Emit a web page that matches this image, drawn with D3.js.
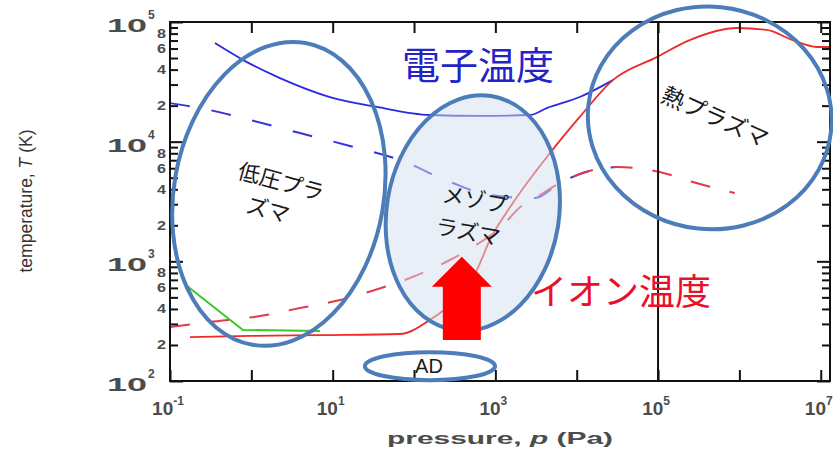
<!DOCTYPE html>
<html>
<head>
<meta charset="utf-8">
<script src="https://cdn.jsdelivr.net/npm/d3@7"></script>
<style>
  body { margin: 0; background: #fff; }
  svg { display: block; }
</style>
</head>
<body>
<svg id="chart" width="833" height="450"></svg>
<script>
'use strict';
// Series: [pressure Pa, temperature K]
const teSolid = [[0.357, 66700], [0.883, 46200], [2.25, 34000], [9.25, 23600], [35, 19500], [157, 16700],
  [645, 16400], [2660, 16700], [4290, 19100], [10900, 23600], [27800, 32700]]
const teDashed = [[0.1, 21000], [0.234, 19100], [0.96, 15200], [3.96, 11800], [16.3, 9200], [67, 7030],
  [276, 4610], [857, 3580], [3060, 3380], [6210, 4520], [15800, 5800], [31100, 6140]]
const tiSolid = [[0.176, 233], [0.96, 238], [6.97, 242], [67, 247], [157, 324], [318, 475], [593, 847],
  [857, 1510], [1640, 3070], [4300, 7450], [10900, 16100], [27800, 32700], [96600, 50900], [245000, 70600],
  [929000, 89100], [2.17e6, 85800], [4.53e6, 70600], [8.93e6, 61800], [1.49e7, 61800]]
const tiDashed = [[0.1, 282], [0.31, 311], [1.28, 349], [3.96, 407], [12.3, 475], [33, 576], [89, 726],
  [276, 1026], [529, 1318], [1136, 1900], [2180, 2960], [3060, 3380], [6210, 4520], [15800, 5800],
  [31100, 6140], [54800, 6020], [105000, 5580], [267000, 4600], [877000, 3720]]
const gasSolid = [[0.162, 622], [0.789, 267], [6.97, 262]]

// Axis ticks and labels
const xTickExps = [-1, 0, 1, 2, 3, 4, 5, 6, 7]
const xLabelExps = [-1, 1, 3, 5, 7]
const yLabelExps = [2, 3, 4, 5]
const yMinorMantissas = [2, 3, 4, 5, 6, 7, 8, 9]
const yMinorLabels = [2, 4, 6, 8]

// Regions: centre [p, T] and half size in decades [p, T]
const regionCenters = [[2.18, 3660], [528, 2530], [432000, 15800], [157, 133]]
const regionHalfDecades = [[1.29, 1.28], [1.06, 0.99], [1.5, 0.93], [0.8, 0.117]]
const regionTilt = [10, 9, 6, 0]

// Region label lines: text, anchor [p, T], rotation
const labelTexts = ['低圧プラ', 'ズマ', 'メゾプ', 'ラズマ', '熱プラズマ']
const labelAnchors = [[2.32, 4600], [1.6, 2690], [562, 3260], [461, 1760], [501000, 16100]]
const labelRotations = [15, 15, 10, 10, 24]

// Arrow at p, from T low to T high
const arrowP = 387
const arrowT = [220, 1090]

const svg = d3.select('#chart')
const x = d3.scaleLog().domain([0.1, 1.3e7]).range([170, 830])
const y = d3.scaleLog().domain([100, 1e5]).range([381, 22])
const [x0, x1] = x.range()
const [y0, y1] = y.range()

svg.append('rect').attr('width', 833).attr('height', 450).attr('fill', '#fff')
svg.append('defs').append('clipPath').attr('id', 'plot')
  .append('rect').attr('x', x0).attr('y', y1).attr('width', x1 - x0).attr('height', y0 - y1)

const plot = svg.append('g').attr('clip-path', 'url(#plot)')

function drawSeries(data, color, width, dash, curve) {
  const line = d3.line().x(d => x(d[0])).y(d => y(d[1])).curve(curve || d3.curveMonotoneX)
  plot.append('path').datum(data)
    .attr('d', line)
    .attr('fill', 'none')
    .attr('stroke', color)
    .attr('stroke-width', width)
    .attr('stroke-dasharray', dash)
}

drawSeries(teDashed, '#3434d8', 2, '20,22')
drawSeries(tiDashed, '#e23a4a', 2, '20,20')
drawSeries(teSolid, '#2a2ae0', 1.8, null)
drawSeries(gasSolid, '#3fc62a', 2, null, d3.curveLinear)
drawSeries(tiSolid, '#ee2a2a', 1.8, null)

// Vertical line at atmospheric pressure
svg.append('line')
  .attr('x1', x(1e5)).attr('x2', x(1e5))
  .attr('y1', y1).attr('y2', y0)
  .attr('stroke', '#111').attr('stroke-width', 2)

// Ticks
const xTicks = xTickExps.map(e => Math.pow(10, e))
const yMajor = yLabelExps.map(e => Math.pow(10, e))
const yMinor = yLabelExps.slice(0, -1).flatMap(e => yMinorMantissas.map(m => m * Math.pow(10, e)))

function tickGroup(axis, tx, ty) {
  const g = svg.append('g').attr('transform', `translate(${tx},${ty})`).call(axis)
  g.select('.domain').remove()
  g.selectAll('.tick line').attr('stroke', '#111').attr('stroke-width', 2)
  g.selectAll('.tick text').remove()
}
tickGroup(d3.axisTop(x).tickValues(xTicks).tickSize(11).tickFormat(''), 0, y0)
tickGroup(d3.axisBottom(x).tickValues(xTicks).tickSize(11).tickFormat(''), 0, y1)
tickGroup(d3.axisRight(y).tickValues(yMajor).tickSize(13).tickFormat(''), x0, 0)
tickGroup(d3.axisRight(y).tickValues(yMinor).tickSize(8).tickFormat(''), x0, 0)
tickGroup(d3.axisLeft(y).tickValues(yMajor).tickSize(13).tickFormat(''), x1, 0)
tickGroup(d3.axisLeft(y).tickValues(yMinor).tickSize(8).tickFormat(''), x1, 0)

// Frame
svg.append('rect')
  .attr('x', x0).attr('y', y1)
  .attr('width', x1 - x0).attr('height', y0 - y1)
  .attr('fill', 'none').attr('stroke', '#111').attr('stroke-width', 2)

// Tick labels
const labelFont = '"Liberation Sans", Arial, sans-serif'
const labelColor = '#4c4c4c'
yLabelExps.forEach(e => {
  const ty = y(Math.pow(10, e))
  svg.append('text')
    .attr('x', x0 - 63).attr('y', ty + 10)
    .attr('font-family', labelFont).attr('font-weight', 'bold').attr('fill', labelColor)
    .attr('font-size', 19)
    .attr('textLength', 40).attr('lengthAdjust', 'spacingAndGlyphs')
    .text('10')
  svg.append('text')
    .attr('x', x0 - 22).attr('y', ty - 3)
    .attr('font-family', labelFont).attr('font-weight', 'bold').attr('fill', labelColor)
    .attr('font-size', 12)
    .text(e)
})
yLabelExps.slice(0, -1).forEach(e => {
  yMinorLabels.forEach(m => {
    svg.append('text')
      .attr('x', x0 - 13).attr('y', y(m * Math.pow(10, e)))
      .attr('dy', '0.36em')
      .attr('font-family', labelFont).attr('font-weight', 'bold')
      .attr('font-size', 12).attr('fill', labelColor)
      .attr('textLength', 9).attr('lengthAdjust', 'spacingAndGlyphs')
      .text(m)
  })
})
xLabelExps.forEach(e => {
  const t = svg.append('text')
    .attr('x', x(Math.pow(10, e)) - 2).attr('y', y0 + 34)
    .attr('text-anchor', 'middle')
    .attr('font-family', labelFont).attr('font-weight', 'bold').attr('fill', labelColor)
  t.append('tspan').attr('font-size', 19).text('10')
  t.append('tspan').attr('font-size', 12).attr('dy', -10).text(e)
})

// Axis titles
const yTitle = svg.append('text')
  .attr('transform', 'translate(32,201) rotate(-90)')
  .attr('text-anchor', 'middle')
  .attr('font-family', '"Liberation Sans Narrow", "Arial Narrow", sans-serif')
  .attr('font-size', 18).attr('fill', '#333')
  .attr('textLength', 143).attr('lengthAdjust', 'spacingAndGlyphs')
yTitle.append('tspan').text('temperature, ')
yTitle.append('tspan').attr('font-style', 'italic').text('T')
yTitle.append('tspan').text(' (K)')

const xTitle = svg.append('text')
  .attr('x', 500).attr('y', 444)
  .attr('text-anchor', 'middle')
  .attr('font-family', labelFont).attr('font-weight', 'bold')
  .attr('font-size', 17).attr('fill', labelColor)
  .attr('textLength', 226).attr('lengthAdjust', 'spacingAndGlyphs')
xTitle.append('tspan').text('pressure, ')
xTitle.append('tspan').attr('font-style', 'italic').text('p')
xTitle.append('tspan').text(' (Pa)')

// Region ellipses
regionCenters.forEach((c, i) => {
  const [hx, hy] = regionHalfDecades[i]
  const cx = x(c[0]), cy = y(c[1])
  const rx = x(c[0] * Math.pow(10, hx)) - cx
  const ry = cy - y(c[1] * Math.pow(10, hy))
  svg.append('ellipse')
    .attr('transform', `translate(${cx},${cy}) rotate(${regionTilt[i]})`)
    .attr('rx', rx).attr('ry', ry)
    .attr('fill', i === 1 ? '#d3e0f0' : 'none')
    .attr('fill-opacity', i === 1 ? 0.5 : 0)
    .attr('stroke', '#4d7db8').attr('stroke-width', 4)
})

// Region labels
const cjkFont = '"Noto Sans CJK JP", sans-serif'
labelTexts.forEach((s, i) => {
  const [p, t] = labelAnchors[i]
  svg.append('text')
    .attr('transform', `translate(${x(p)},${y(t)}) rotate(${labelRotations[i]})`)
    .attr('text-anchor', 'middle').attr('dy', '0.35em')
    .attr('font-family', cjkFont).attr('font-size', i === 4 ? 23 : 22)
    .attr('fill', '#1a1a1a')
    .text(s)
})
svg.append('text')
  .attr('x', x(regionCenters[3][0]) - 1).attr('y', y(regionCenters[3][1]))
  .attr('dy', '0.36em').attr('text-anchor', 'middle')
  .attr('font-family', labelFont).attr('font-size', 20).attr('fill', '#1a1a1a')
  .text('AD')

// Series titles
svg.append('text')
  .attr('x', x(612)).attr('y', y(43800)).attr('dy', '0.36em')
  .attr('text-anchor', 'middle')
  .attr('font-family', cjkFont).attr('font-size', 38).attr('fill', '#2323c6')
  .text('電子温度')
svg.append('text')
  .attr('x', x(35100)).attr('y', y(555)).attr('dy', '0.36em')
  .attr('text-anchor', 'middle')
  .attr('font-family', cjkFont).attr('font-size', 36).attr('fill', '#e8102a')
  .text('イオン温度')

// Red arrow
const ax = x(arrowP), aBase = y(arrowT[0]), aTip = y(arrowT[1])
const headBase = aTip + 30
svg.append('path')
  .attr('d', `M${ax - 19},${aBase} L${ax - 19},${headBase} L${ax - 30},${headBase} L${ax},${aTip}
    L${ax + 30},${headBase} L${ax + 19},${headBase} L${ax + 19},${aBase} Z`)
  .attr('fill', '#ff0000')
</script>
</body>
</html>
